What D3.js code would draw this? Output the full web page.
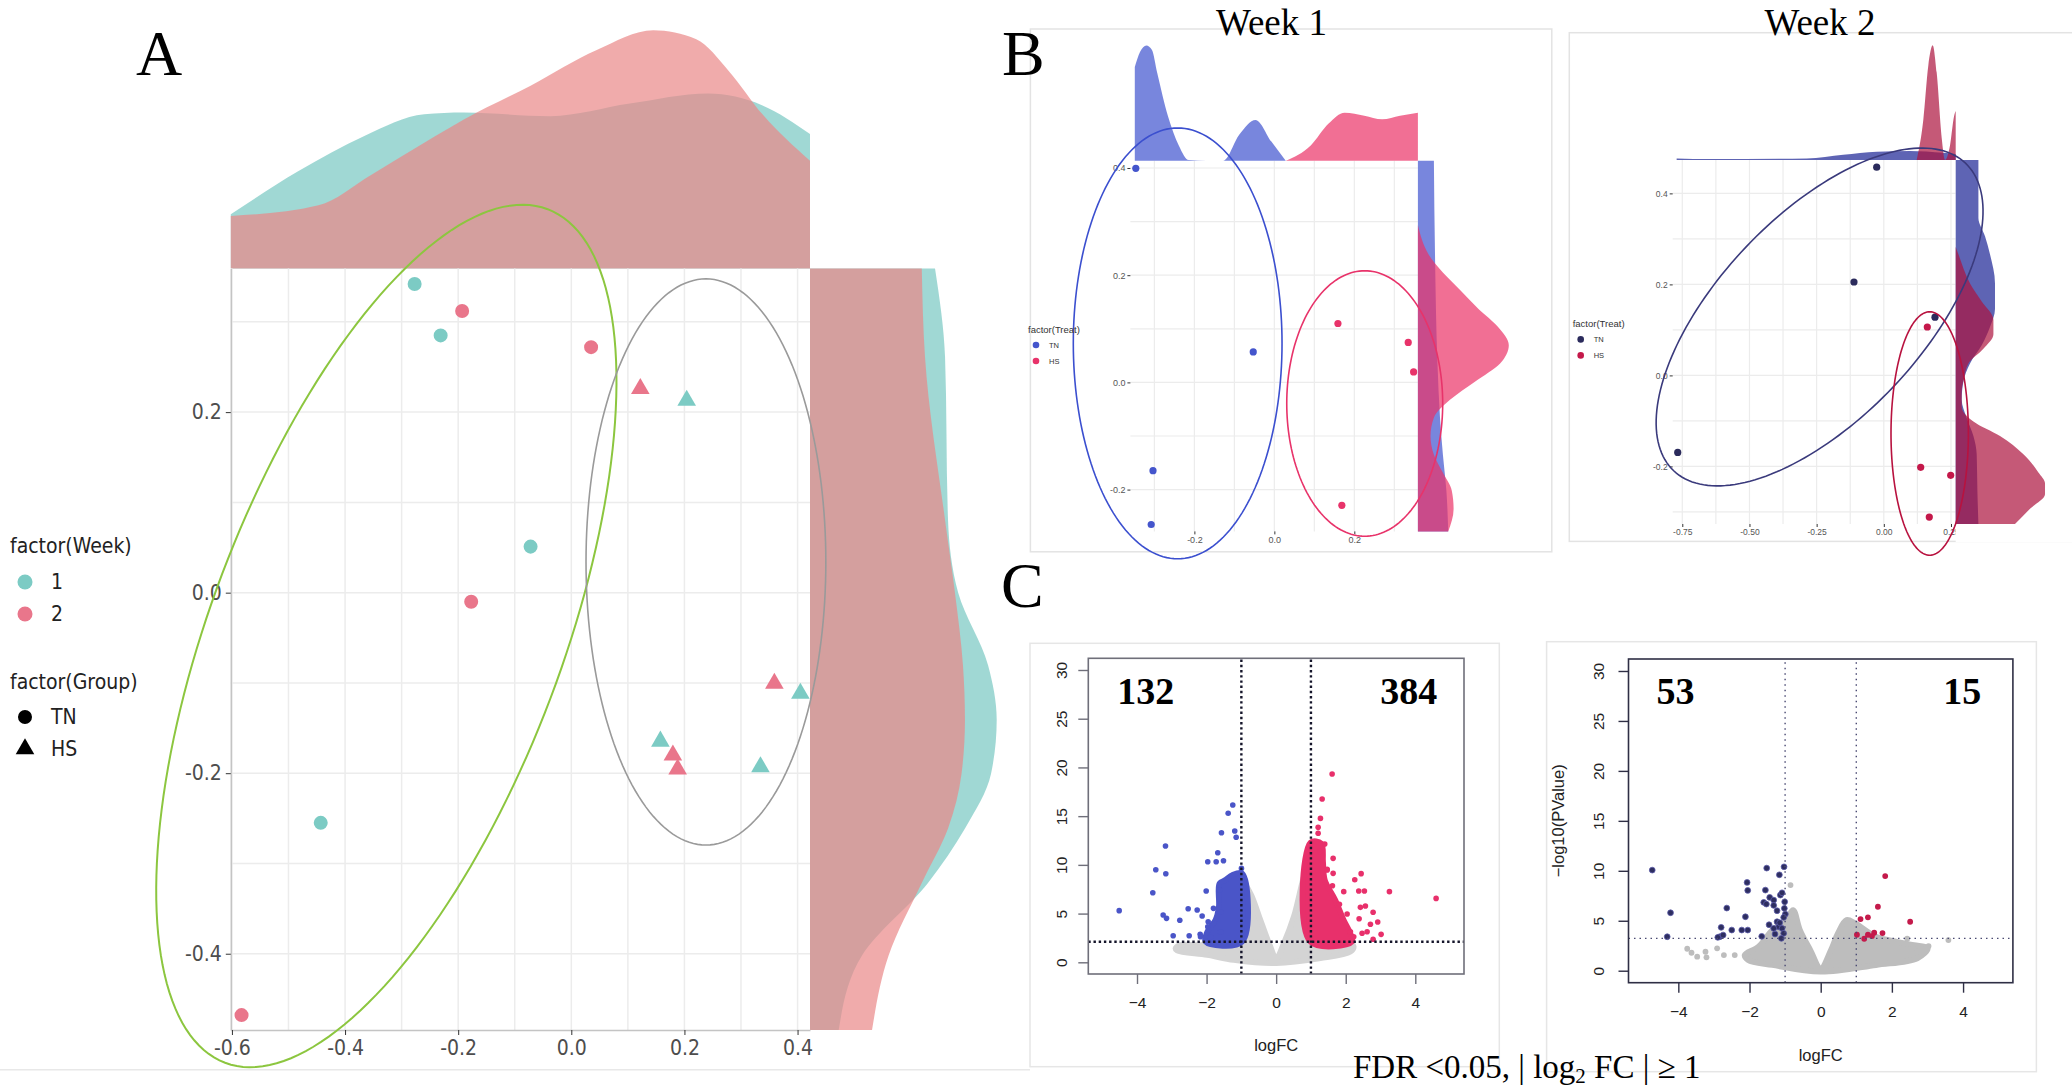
<!DOCTYPE html>
<html>
<head>
<meta charset="utf-8">
<script src="https://cdn.jsdelivr.net/npm/d3@7"></script>
<style>
  body { margin: 0; background: #fff; }
  svg { display: block; }
</style>
</head>
<body>
<svg id="fig" width="2072" height="1089"></svg>
<script>
// ---------- Panel A data (PCA, both weeks) ----------
const aPC1 = [-0.277, -0.193, -0.231, 0.035, 0.122, 0.204, -0.072, -0.177, 0.359, 0.405, 0.1575, 0.1796, 0.188, 0.3344, -0.443, -0.583];
const aPC2 = [0.342, 0.312, 0.285, 0.272, 0.226, 0.213, 0.051, -0.010, -0.1005, -0.1117, -0.1647, -0.18, -0.1955, -0.193, -0.255, -0.468];
const aWeek = [1, 2, 1, 2, 2, 1, 1, 2, 2, 1, 1, 2, 2, 1, 1, 2];
const aGroup = ["TN", "TN", "TN", "TN", "HS", "HS", "TN", "TN", "HS", "HS", "HS", "HS", "HS", "HS", "TN", "TN"];
const aXTicks = [-0.6, -0.4, -0.2, 0.0, 0.2, 0.4];
const aYTicks = [-0.4, -0.2, 0.0, 0.2];
// ellipses: centre x, centre y, axis1 (x,y), axis2 (x,y) in data units
const aEllipseTN = [-0.327, -0.048, 0.2851, 0.4728, 0.2903, -0.0687];
const aEllipseHS = [0.238, 0.034, 0, 0.3136, 0.212, 0];
// marginal densities [value, density]
const aTopWeek1 = [[-0.602, 0.455], [-0.483, 0.815], [-0.365, 1.114], [-0.26, 1.293], [-0.19, 1.308], [-0.037, 1.278], [0.1035, 1.383], [0.242, 1.467], [0.338, 1.368], [0.422, 1.129]];
const aTopWeek2 = [[-0.602, 0.441], [-0.447, 0.53], [-0.354, 0.785], [-0.26, 1.054], [-0.19, 1.249], [-0.072, 1.533], [0.045, 1.832], [0.145, 1.997], [0.221, 1.922], [0.279, 1.653], [0.338, 1.293], [0.422, 0.904]];
const aRightWeek1 = [[0.359, 1.048], [0.261, 1.132], [0.0804, 1.157], [0, 1.242], [-0.0802, 1.492], [-0.1407, 1.565], [-0.201, 1.517], [-0.2613, 1.299], [-0.3216, 0.989], [-0.402, 0.436], [-0.4845, 0.241]];
const aRightWeek2 = [[0.359, 0.937], [0.261, 0.964], [0.0804, 1.132], [0, 1.215], [-0.0802, 1.282], [-0.1407, 1.299], [-0.201, 1.27], [-0.2613, 1.157], [-0.3216, 0.937], [-0.402, 0.659], [-0.4845, 0.52]];

// ---------- Panel B data (PCA per week) ----------
const b1TN = [[-0.3465, 0.3993], [-0.0528, 0.0569], [-0.3035, -0.1648], [-0.308, -0.2651]];
const b1HS = [[0.159, 0.1099], [0.3348, 0.0746], [0.3483, 0.0196], [0.1688, -0.2293]];
const b2TN = [[-0.0264, 0.4576], [-0.111, 0.2053], [0.1905, 0.1279], [-0.767, -0.1692]];
const b2HS = [[0.1619, 0.1064], [0.1373, -0.202], [0.249, -0.2196], [0.1693, -0.3114]];
const b1EllipseTN = [-0.2418, 0.0728, 0, 0.4019, 0.261, 0];
const b1EllipseHS = [0.226, -0.0394, 0, 0.2476, 0.195, 0];
const b2EllipseTN = [-0.239, 0.1284, 0.543, 0.338, 0.2743, -0.1536];
const b2EllipseHS = [0.1708, -0.1277, 0, 0.2675, 0.144, 0];
const b1XTicks = [-0.2, 0.0, 0.2], b1YTicks = [-0.2, 0.0, 0.2, 0.4];
const b2XTicks = [-0.75, -0.5, -0.25, 0.0, 0.25], b2YTicks = [-0.2, 0.0, 0.2, 0.4];
const b1TopTN = [[-0.349, 3.12], [-0.336, 3.62], [-0.32, 3.84], [-0.306, 3.69], [-0.293, 2.93], [-0.266, 1.48], [-0.239, 0.51], [-0.214, 0.02], [-0.17, 0], [-0.128, 0], [-0.0875, 0.87], [-0.047, 1.36], [-0.007, 0.63], [0.0285, 0]];
const b1TopHS = [[0.0285, 0], [0.091, 0.51], [0.1357, 1.24], [0.1757, 1.6], [0.225, 1.5], [0.2695, 1.38], [0.3143, 1.5], [0.359, 1.6]];
const b1RightTN = [[0.4136, 0.533], [0.2386, 0.57], [0.0353, 0.653], [-0.0664, 0.737], [-0.1343, 0.833], [-0.202, 0.95], [-0.278, 1.01]];
const b1RightHS = [[0.293, 0], [0.2386, 0.357], [0.1709, 1.43], [0.137, 2.02], [0.103, 2.68], [0.0692, 3.03], [0.0353, 2.74], [0.0013, 1.9], [-0.0326, 1.07], [-0.0664, 0.53], [-0.1004, 0.42], [-0.1343, 0.53], [-0.1683, 0.83], [-0.202, 1.13], [-0.236, 1.19], [-0.278, 1.01]];
const b2TopTN = [[-0.771, 0.05], [-0.647, 0.03], [-0.287, 0.05], [-0.151, 0.17], [-0.026, 0.27], [0.0975, 0.3], [0.221, 0.24], [0.2676, 0.2]];
const b2TopHS = [[0.1224, 0], [0.147, 1.33], [0.1657, 3.15], [0.182, 3.82], [0.1968, 2.91], [0.2155, 0.73], [0.2278, 0], [0.2464, 0.48], [0.2613, 1.45], [0.2676, 1.63]];
const b2RightTN = [[0.4736, 0.757], [0.346, 0.757], [0.306, 0.977], [0.266, 1.143], [0.202, 1.31], [0.146, 1.31], [0.1063, 1.143], [0.0663, 0.867], [0.0264, 0.477], [-0.0135, 0.257], [-0.0534, 0.2], [-0.0934, 0.367], [-0.1332, 0.59], [-0.1732, 0.7], [-0.2532, 0.723], [-0.3266, 0.757]];
const b2RightHS = [[0.282, 0], [0.266, 0.09], [0.202, 0.477], [0.1622, 0.867], [0.1222, 1.257], [0.0903, 1.257], [0.0584, 0.923], [0.0264, 0.423], [-0.0055, 0.277], [-0.0374, 0.2], [-0.0694, 0.2], [-0.1013, 0.59], [-0.1332, 1.477], [-0.1732, 2.257], [-0.2132, 2.757], [-0.2371, 2.977], [-0.2611, 2.977], [-0.293, 2.477], [-0.3266, 1.977]];

// ---------- Panel C data (volcano plots) ----------
const vTicksX = [-4, -2, 0, 2, 4];
const vTicksY = [0, 5, 10, 15, 20, 25, 30];
const vCounts1 = [132, 384], vCounts2 = [53, 15];
const vCut1 = [1, 2.11], vCut2 = [1, 3.24];   // |logFC| cut, -log10 p cut
const v1Down = [[-1.247, 16.14], [-1.379, 15.29], [-1.19, 13.47], [-1.572, 13.3], [-1.149, 12.83], [-3.181, 11.93], [-1.678, 11.25], [-1.966, 10.32], [-1.724, 10.32], [-1.514, 10.43], [-3.46, 9.5], [-3.172, 9.09], [-0.997, 9.64], [-3.546, 7.14], [-2.011, 7.32], [-4.512, 5.3], [-2.529, 5.5], [-2.27, 5.37], [-3.248, 4.85], [-3.152, 4.51], [-2.77, 4.31], [-2.127, 4.75], [-1.802, 5.54], [-2.96, 2.73], [-2.5, 2.73], [-2.184, 2.87], [-1.954, 4.17], [-1.966, 3.65], [-1.6, 5.19], [-1.629, 7.42], [-1.793, 4.0], [-1.6, 3.14], [-2.175, 2.63], [-1.887, 2.63]];
const v1Up = [[1.609, 19.32], [1.322, 16.76], [1.273, 14.77], [1.207, 13.85], [1.638, 10.67], [2.443, 9.1], [2.26, 8.48], [3.256, 7.25], [4.598, 6.56], [1.943, 7.25], [2.374, 7.32], [2.537, 7.32], [2.422, 5.64], [2.566, 5.78], [2.787, 5.13], [2.385, 4.47], [2.92, 4.14], [2.71, 3.9], [3.017, 2.87], [2.787, 2.36], [2.04, 4.96], [1.819, 5.95], [1.618, 7.86], [1.466, 9.54], [2.135, 3.14], [2.23, 2.63], [2.47, 2.98], [2.615, 3.14], [1.207, 13.24], [1.397, 12.14], [1.255, 11.36], [1.466, 9.47], [1.638, 9.13]];
const v1DownCore = [[-1.264, 8.96], [-0.977, 9.13], [-0.977, 2.11], [-2.03, 2.11], [-1.98, 3.14], [-1.744, 4.34], [-1.649, 5.71], [-1.63, 8.1], [-1.457, 8.45]];
const v1UpCore = [[0.986, 12.3], [1.3, 12.2], [1.35, 10.3], [1.4, 8.45], [1.7, 6.4], [1.94, 4.35], [2.13, 3.0], [2.18, 2.11], [0.986, 2.11]];
const v1Cloud = [[-2.894, 1.43], [-2.75, 1.78], [-2.175, 1.78], [-1.6, 1.95], [-1.218, 4.0], [-0.948, 8.1], [-0.739, 7.08], [-0.451, 4.34], [-0.164, 1.6], [0, 0.41], [0.218, 1.95], [0.506, 4.68], [0.793, 8.78], [0.966, 10.57], [1.273, 8.1], [1.848, 3.31], [2.23, 1.6], [2.135, 1.09], [1.273, 0.41], [0, -0.1], [-1.218, 0.24], [-1.983, 0.75], [-2.845, 1.19]];
const v2Down = [[-4.733, 10.07], [-4.219, 5.8], [-4.312, 3.4], [-2.639, 6.27], [-2.797, 4.34], [-2.835, 3.4], [-2.891, 3.34], [-2.741, 3.57], [-2.499, 4.07], [-2.218, 4.07], [-2.05, 4.07], [-2.115, 5.4], [-2.068, 8.84], [-2.05, 8.04], [-1.517, 10.27], [-1.161, 9.6], [-1.03, 10.4], [-1.554, 8.07], [-1.6, 6.84], [-1.526, 6.67], [-1.433, 7.34], [-1.32, 7.07], [-1.32, 6.54], [-1.133, 7.57], [-1.086, 7.8], [-1.012, 6.9], [-1.021, 6.24], [-1.226, 6.0], [-0.993, 5.67], [-1.04, 5.34], [-1.45, 4.6], [-1.226, 4.9], [-1.18, 4.4], [-1.32, 4.24], [-1.086, 4.24], [-1.283, 3.67], [-1.04, 3.74], [-1.105, 3.24], [-1.657, 3.44], [-1.152, 4.8]];
const v2Up = [[1.812, 9.47], [1.607, 6.4], [2.513, 4.9], [1.327, 5.34], [1.119, 5.17], [1.018, 3.6], [1.327, 3.6], [1.504, 3.8], [1.44, 3.47], [1.736, 3.77], [1.223, 3.2]];
const v2Other = [[-3.75, 2.2], [-3.63, 1.8], [-3.47, 1.4], [-3.237, 1.9], [-3.209, 1.34], [-2.91, 2.24], [-2.72, 1.57], [-2.415, 1.57], [3.588, 3.07], [3.03, 2.47], [2.935, 2.14], [2.607, 2.24], [2.43, 3.2], [-0.848, 8.57]];
const v2Cloud = [[-2.135, 1.57], [-1.747, 2.4], [-1.358, 4.07], [-0.97, 5.07], [-0.777, 6.07], [-0.583, 4.07], [-0.292, 2.07], [0, 0.24], [0.289, 2.07], [0.483, 3.74], [0.727, 5.07], [0.968, 4.74], [1.551, 3.4], [2.132, 2.9], [2.617, 2.57], [3.004, 2.24], [2.713, 1.24], [1.551, 0.57], [0, -0.1], [-1.358, 0.57], [-2.037, 1.07]];

// ---------- helpers ----------
const svg = d3.select("#fig");
svg.append("rect").attr("width", 2072).attr("height", 1089).attr("fill", "#fff");
const SERIF = '"Liberation Serif","Times New Roman",serif';
const SANS = '"Liberation Sans",Arial,sans-serif';
const NARROW = '"Liberation Sans Narrow","Arial Narrow","DejaVu Sans Condensed","Liberation Sans",sans-serif';

function ellipsePath(e, x, y) {
  const pts = d3.range(0, 362, 2).map(a => {
    const t = a * Math.PI / 180;
    return [x(e[0] + e[2] * Math.cos(t) + e[4] * Math.sin(t)),
            y(e[1] + e[3] * Math.cos(t) + e[5] * Math.sin(t))];
  });
  return d3.line()(pts) + "Z";
}

function topDensity(g, data, x, d, color) {
  g.append("path")
    .attr("d", d3.area().curve(d3.curveMonotoneX)
      .x(p => x(p[0])).y0(d(0)).y1(p => d(p[1]))(data))
    .attr("fill", color).attr("fill-opacity", 0.7);
}

function rightDensity(g, data, y, d, color) {
  g.append("path")
    .attr("d", d3.area().curve(d3.curveMonotoneY)
      .y(p => y(p[0])).x0(d(0)).x1(p => d(p[1]))(data))
    .attr("fill", color).attr("fill-opacity", 0.7);
}

function grid(g, x, y, xs, ys, color, w) {
  g.selectAll(null).data(xs).join("line")
    .attr("x1", v => x(v)).attr("x2", v => x(v))
    .attr("y1", y.range()[0]).attr("y2", y.range()[1])
    .attr("stroke", color).attr("stroke-width", w);
  g.selectAll(null).data(ys).join("line")
    .attr("y1", v => y(v)).attr("y2", v => y(v))
    .attr("x1", x.range()[0]).attr("x2", x.range()[1])
    .attr("stroke", color).attr("stroke-width", w);
}

function styleAxis(sel, font, size, color, domainColor) {
  sel.selectAll("text").attr("font-family", font).attr("font-size", size).attr("fill", color);
  sel.selectAll(".tick line").attr("stroke", "#333");
  if (domainColor) sel.select(".domain").attr("stroke", domainColor).attr("stroke-width", 1.5);
  else sel.select(".domain").remove();
}

// ---------- Panel A ----------
const xA = d3.scaleLinear().domain([-0.602, 0.422]).range([230.8, 810]);
const yA = d3.scaleLinear().domain([-0.4845, 0.359]).range([1030, 268.6]);
const dTopA = d3.scaleLinear().domain([0, 2]).range([268.6, 30]);
const dRightA = d3.scaleLinear().domain([0, 2]).range([810, 1048.6]);
const weekColor = d3.scaleOrdinal().domain([1, 2]).range(["#7ccbc4", "#e9768b"]);
const weekFill = d3.scaleOrdinal().domain([1, 2]).range(["#77c7c2", "#ea8787"]);

const gA = svg.append("g");
topDensity(gA, aTopWeek1, xA, dTopA, weekFill(1));
topDensity(gA, aTopWeek2, xA, dTopA, weekFill(2));
rightDensity(gA, aRightWeek1, yA, dRightA, weekFill(1));
rightDensity(gA, aRightWeek2, yA, dRightA, weekFill(2));

grid(gA.append("g"), xA, yA, d3.range(-6, 5).map(i => i / 10), d3.range(-4, 4).map(i => i / 10), "#ececec", 1.5);

gA.append("g").attr("transform", "translate(0,1030)")
  .call(d3.axisBottom(xA).tickValues(aXTicks).tickFormat(d => d.toFixed(1)).tickSize(5).tickSizeOuter(0).tickPadding(5))
  .call(s => styleAxis(s, NARROW, 21, "#4d4d4d", "#c4c4c4"));
gA.append("g").attr("transform", "translate(230.8,0)")
  .call(d3.axisLeft(yA).tickValues(aYTicks).tickFormat(d => d.toFixed(1)).tickSize(5).tickSizeOuter(0).tickPadding(4))
  .call(s => styleAxis(s, NARROW, 21, "#4d4d4d", "#c4c4c4"));

const shapeA = d3.scaleOrdinal().domain(["TN", "HS"]).range([d3.symbolCircle, d3.symbolTriangle]);
const sizeA = d3.scaleOrdinal().domain(["TN", "HS"]).range([154, 150]);
gA.append("g").selectAll("path").data(aPC1.map((v, i) => i)).join("path")
  .attr("transform", i => `translate(${xA(aPC1[i])},${yA(aPC2[i])})`)
  .attr("d", i => d3.symbol(shapeA(aGroup[i]), sizeA(aGroup[i]))())
  .attr("fill", i => weekColor(aWeek[i]));

gA.append("path").attr("d", ellipsePath(aEllipseTN, xA, yA))
  .attr("fill", "none").attr("stroke", "#8cc63f").attr("stroke-width", 2);
gA.append("path").attr("d", ellipsePath(aEllipseHS, xA, yA))
  .attr("fill", "none").attr("stroke", "#9a9a9a").attr("stroke-width", 1.6);

// legend A
const legA = gA.append("g").attr("font-family", NARROW).attr("font-size", 21).attr("fill", "#222");
legA.append("text").attr("x", 10).attr("y", 546).attr("dominant-baseline", "central").text("factor(Week)");
[1, 2].forEach((w, i) => {
  legA.append("circle").attr("cx", 25).attr("cy", 582 + i * 32).attr("r", 7.5).attr("fill", weekColor(w));
  legA.append("text").attr("x", 51).attr("y", 582 + i * 32).attr("dominant-baseline", "central").text(w);
});
legA.append("text").attr("x", 10).attr("y", 682).attr("dominant-baseline", "central").text("factor(Group)");
["TN", "HS"].forEach((gname, i) => {
  legA.append("path").attr("transform", `translate(25,${717 + i * 32})`)
    .attr("d", d3.symbol(shapeA(gname), sizeA(gname))()).attr("fill", "#000");
  legA.append("text").attr("x", 51).attr("y", 717 + i * 32).attr("dominant-baseline", "central").text(gname);
});
svg.append("line").attr("x1", 0).attr("x2", 1030).attr("y1", 1069.7).attr("y2", 1069.7)
  .attr("stroke", "#e8e8e8").attr("stroke-width", 1.5);

// ---------- Panel B ----------
function pcaWeek(cfg) {
  const g = svg.append("g");
  g.append("rect").attr("x", cfg.box[0]).attr("y", cfg.box[1]).attr("width", cfg.box[2]).attr("height", cfg.box[3])
    .attr("fill", "none").attr("stroke", "#e3e3e3").attr("stroke-width", 1.5);
  const x = d3.scaleLinear().domain(cfg.xDom).range(cfg.xRange);
  const y = d3.scaleLinear().domain(cfg.yDom).range(cfg.yRange);
  const dTop = d3.scaleLinear().domain([0, 4]).range([cfg.yRange[1], cfg.yRange[1] - 120]);
  const dRight = d3.scaleLinear().domain([0, 4]).range([cfg.xRange[1], cfg.xRange[1] + 120]);

  grid(g.append("g"), x, y, cfg.xGrid, cfg.yGrid, "#ececec", 1.2);
  g.append("g").attr("transform", `translate(0,${cfg.yRange[0]})`)
    .call(d3.axisBottom(x).tickValues(cfg.xTicks).tickFormat(cfg.fmtX).tickSize(3).tickSizeOuter(0).tickPadding(2))
    .call(s => styleAxis(s, SANS, cfg.tickFont, "#555", null));
  g.append("g").attr("transform", `translate(${cfg.xRange[0]},0)`)
    .call(d3.axisLeft(y).tickValues(cfg.yTicks).tickFormat(d => d.toFixed(1)).tickSize(3).tickSizeOuter(0).tickPadding(2))
    .call(s => styleAxis(s, SANS, cfg.tickFont, "#555", null));

  // marginal panel background
  g.append("rect").attr("x", cfg.xRange[1]).attr("y", cfg.yRange[1]).attr("width", 125)
    .attr("height", cfg.yRange[0] - cfg.yRange[1] + 18).attr("fill", "#fff");
  topDensity(g, cfg.topTN, x, dTop, cfg.fillTN);
  topDensity(g, cfg.topHS, x, dTop, cfg.fillHS);
  rightDensity(g, cfg.rightTN, y, dRight, cfg.fillTN);
  rightDensity(g, cfg.rightHS, y, dRight, cfg.fillHS);

  [[cfg.tn, cfg.pointTN], [cfg.hs, cfg.pointHS]].forEach(([pts, col]) => {
    g.append("g").selectAll("circle").data(pts).join("circle")
      .attr("cx", p => x(p[0])).attr("cy", p => y(p[1])).attr("r", 3.6).attr("fill", col);
  });
  g.append("path").attr("d", ellipsePath(cfg.ellTN, x, y)).attr("fill", "none")
    .attr("stroke", cfg.lineTN).attr("stroke-width", 1.6);
  g.append("path").attr("d", ellipsePath(cfg.ellHS, x, y)).attr("fill", "none")
    .attr("stroke", cfg.lineHS).attr("stroke-width", 1.6);

  g.append("text").attr("x", cfg.titleX).attr("y", 35).attr("text-anchor", "middle")
    .attr("font-family", SERIF).attr("font-size", 37).text(cfg.title);

  const leg = g.append("g").attr("font-family", SANS).attr("fill", "#333");
  leg.append("text").attr("x", cfg.legX).attr("y", cfg.legY).attr("font-size", 9.5)
    .attr("dominant-baseline", "central").text("factor(Treat)");
  [["TN", cfg.pointTN], ["HS", cfg.pointHS]].forEach(([lab, col], i) => {
    leg.append("circle").attr("cx", cfg.legX + 8).attr("cy", cfg.legY + 16 + i * 16).attr("r", 3.3).attr("fill", col);
    leg.append("text").attr("x", cfg.legX + 21).attr("y", cfg.legY + 16 + i * 16).attr("font-size", 7.5)
      .attr("dominant-baseline", "central").text(lab);
  });
}

pcaWeek({
  title: "Week 1", titleX: 1271.5, box: [1030.4, 29, 521.4, 522.8],
  xDom: [-0.36, 0.359], xRange: [1130.4, 1417.9], yDom: [-0.278, 0.4136], yRange: [531.4, 160.7],
  xTicks: b1XTicks, yTicks: b1YTicks, fmtX: d => d.toFixed(1), tickFont: 9,
  xGrid: [-0.3, -0.2, -0.1, 0, 0.1, 0.2, 0.3], yGrid: [-0.2, -0.1, 0, 0.1, 0.2, 0.3, 0.4],
  tn: b1TN, hs: b1HS, ellTN: b1EllipseTN, ellHS: b1EllipseHS,
  topTN: b1TopTN, topHS: b1TopHS, rightTN: b1RightTN, rightHS: b1RightHS,
  fillTN: "#3f52cf", fillHS: "#eb3267", pointTN: "#4455cc", pointHS: "#e8336a",
  lineTN: "#3b4fcf", lineHS: "#e8336a", legX: 1028, legY: 329
});
pcaWeek({
  title: "Week 2", titleX: 1820, box: [1569.3, 32.7, 520, 508.7],
  xDom: [-0.7857, 0.2676], xRange: [1672.7, 1955.7], yDom: [-0.3266, 0.4736], yRange: [524, 159.9],
  xTicks: b2XTicks, yTicks: b2YTicks, fmtX: d => d.toFixed(2), tickFont: 8.5,
  xGrid: [-0.75, -0.625, -0.5, -0.375, -0.25, -0.125, 0, 0.125, 0.25], yGrid: [-0.3, -0.2, -0.1, 0, 0.1, 0.2, 0.3, 0.4],
  tn: b2TN, hs: b2HS, ellTN: b2EllipseTN, ellHS: b2EllipseHS,
  topTN: b2TopTN, topHS: b2TopHS, rightTN: b2RightTN, rightHS: b2RightHS,
  fillTN: "#1a2294", fillHS: "#ac123d", pointTN: "#2b2b5c", pointHS: "#c4184a",
  lineTN: "#3a3a7c", lineHS: "#b8123f", legX: 1572.7, legY: 323.4
});

// ---------- Panel C ----------
function volcano(cfg) {
  const g = svg.append("g");
  g.append("rect").attr("x", cfg.outer[0]).attr("y", cfg.outer[1]).attr("width", cfg.outer[2]).attr("height", cfg.outer[3])
    .attr("fill", "none").attr("stroke", "#e6e6e6").attr("stroke-width", 1.5);
  const x = d3.scaleLinear().domain([-5.4, 5.4]).range(cfg.xRange);
  const y = d3.scaleLinear().domain([-1.2, 31.2]).range(cfg.yRange);
  const line = d3.line().x(p => x(p[0])).y(p => y(p[1])).curve(d3.curveCatmullRomClosed.alpha(0.5));

  const blob = (data, col) => g.append("path").attr("d", line(data)).attr("fill", col)
    .attr("stroke", col).attr("stroke-width", cfg.r * 2).attr("stroke-linejoin", "round");
  const dots = (data, col, edge) => g.append("g").selectAll("circle").data(data).join("circle")
    .attr("cx", p => x(p[0])).attr("cy", p => y(p[1])).attr("r", cfg.r).attr("fill", col)
    .attr("stroke", edge || "none").attr("stroke-width", 0.8);

  blob(cfg.cloud, cfg.gray);
  if (cfg.other) dots(cfg.other, cfg.gray);
  if (cfg.downCore) blob(cfg.downCore, cfg.down);
  if (cfg.upCore) blob(cfg.upCore, cfg.up);
  dots(cfg.downPts, cfg.down, cfg.edge);
  dots(cfg.upPts, cfg.up);

  // threshold lines
  const thr = g.append("g").attr("stroke", cfg.dotColor).attr("stroke-width", cfg.dotW)
    .attr("stroke-dasharray", cfg.dash);
  [-cfg.cut[0], cfg.cut[0]].forEach(v => thr.append("line")
    .attr("x1", x(v)).attr("x2", x(v)).attr("y1", cfg.yRange[0]).attr("y2", cfg.yRange[1]));
  thr.append("line").attr("x1", cfg.xRange[0]).attr("x2", cfg.xRange[1])
    .attr("y1", y(cfg.cut[1])).attr("y2", y(cfg.cut[1]));

  g.append("rect").attr("x", cfg.xRange[0]).attr("y", cfg.yRange[1])
    .attr("width", cfg.xRange[1] - cfg.xRange[0]).attr("height", cfg.yRange[0] - cfg.yRange[1])
    .attr("fill", "none").attr("stroke", cfg.boxColor).attr("stroke-width", 1.6);

  const ax = g.append("g").attr("transform", `translate(0,${cfg.yRange[0]})`)
    .call(d3.axisBottom(x).tickValues(vTicksX).tickFormat(d => String(d).replace("-", "\u2212")).tickSize(10).tickSizeOuter(0).tickPadding(13));
  ax.select(".domain").remove();
  ax.selectAll("line").attr("stroke", cfg.boxColor).attr("stroke-width", 1.4);
  ax.selectAll("text").attr("font-family", SANS).attr("font-size", 15.5).attr("fill", "#222");
  const ay = g.append("g").attr("transform", `translate(${cfg.xRange[0]},0)`)
    .call(d3.axisLeft(y).tickValues(vTicksY).tickSize(10).tickSizeOuter(0));
  ay.select(".domain").remove();
  ay.selectAll("line").attr("stroke", cfg.boxColor).attr("stroke-width", 1.4);
  ay.selectAll("text").attr("font-family", SANS).attr("font-size", 15.5).attr("fill", "#222")
    .attr("transform", "rotate(-90)").attr("x", 0).attr("y", -cfg.yLabOff).attr("dy", 0)
    .attr("text-anchor", "middle");

  g.append("text").attr("x", x(0)).attr("y", cfg.xTitleY).attr("text-anchor", "middle")
    .attr("font-family", SANS).attr("font-size", 16.5).attr("fill", "#222").text("logFC");
  if (cfg.yTitle) {
    g.append("text").attr("transform", `translate(${cfg.yTitleX},${(cfg.yRange[0] + cfg.yRange[1]) / 2}) rotate(-90)`)
      .attr("text-anchor", "middle").attr("dominant-baseline", "central")
      .attr("font-family", SANS).attr("font-size", 16.5).attr("fill", "#222").text(cfg.yTitle);
  }
  g.append("text").attr("x", x(cfg.numPos[0])).attr("y", y(cfg.numPos[2])).attr("text-anchor", "start")
    .attr("font-family", SERIF).attr("font-weight", "bold").attr("font-size", 38).text(cfg.counts[0]);
  g.append("text").attr("x", x(cfg.numPos[1])).attr("y", y(cfg.numPos[2])).attr("text-anchor", "end")
    .attr("font-family", SERIF).attr("font-weight", "bold").attr("font-size", 38).text(cfg.counts[1]);
}

volcano({
  outer: [1030, 643.3, 469.3, 423.4], xRange: [1088.3, 1464], yRange: [974, 658.3],
  r: 2.8, gray: "#d4d4d4", down: "#4a55c8", up: "#e8306b",
  cloud: v1Cloud, downCore: v1DownCore, upCore: v1UpCore, downPts: v1Down, upPts: v1Up,
  cut: vCut1, dotColor: "#15152a", dotW: 2.4, dash: "2.4 2.8", boxColor: "#6f6f7a",
  yLabOff: 21, xTitleY: 1051, counts: vCounts1, numPos: [-4.57, 4.63, 26.5]
});
volcano({
  outer: [1546.6, 641.7, 489.8, 430], xRange: [1628.5, 2012.9], yRange: [982.7, 659],
  r: 2.9, gray: "#bdbdbd", down: "#2e2e60", up: "#c41a4b", edge: "#5a5aa8",
  cloud: v2Cloud, other: v2Other, downPts: v2Down, upPts: v2Up,
  cut: vCut2, dotColor: "#4a4a72", dotW: 1.4, dash: "1.5 4", boxColor: "#2f2f45",
  yLabOff: 25, xTitleY: 1061, yTitle: "\u2212log10(PValue)", yTitleX: 1557.7,
  counts: vCounts2, numPos: [-4.61, 4.51, 26.7]
});

// ---------- panel letters and footnote ----------
[["A", 136, 75], ["B", 1002, 74.5], ["C", 1001, 607]].forEach(([t, px, py]) => {
  svg.append("text").attr("x", px).attr("y", py).attr("font-family", SERIF).attr("font-size", 64).text(t);
});
const fdr = svg.append("text").attr("x", 1353).attr("y", 1078).attr("font-family", SERIF).attr("font-size", 33);
fdr.append("tspan").text("FDR <0.05, | log");
fdr.append("tspan").attr("dy", 5).attr("font-size", 21).text("2");
fdr.append("tspan").attr("dy", -5).text(" FC | \u2265 1");
</script>
</body>
</html>
